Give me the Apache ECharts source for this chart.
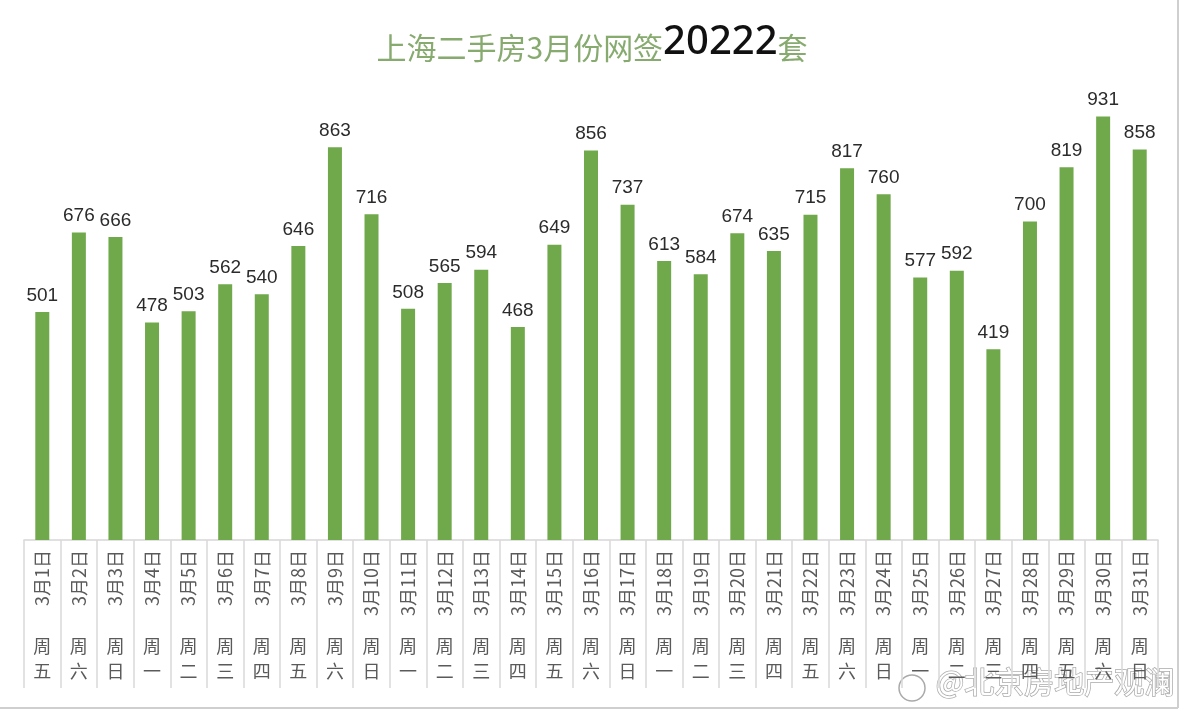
<!DOCTYPE html>
<html><head><meta charset="utf-8">
<script src="https://cdn.jsdelivr.net/npm/echarts@6/dist/echarts.min.js"></script>
<style>html,body{margin:0;padding:0;background:#fff}#c{width:1184px;height:713px}</style>
</head><body><div id="c"></div>
<script>
const dates = ['3月1日','3月2日','3月3日','3月4日','3月5日','3月6日','3月7日','3月8日','3月9日','3月10日','3月11日','3月12日','3月13日','3月14日','3月15日','3月16日','3月17日','3月18日','3月19日','3月20日','3月21日','3月22日','3月23日','3月24日','3月25日','3月26日','3月27日','3月28日','3月29日','3月30日','3月31日'];
const weekdays = ['五','六','日','一','二','三','四','五','六','日','一','二','三','四','五','六','日','一','二','三','四','五','六','日','一','二','三','四','五','六','日'];
const sales = [501,676,666,478,503,562,540,646,863,716,508,565,594,468,649,856,737,613,584,674,635,715,817,760,577,592,419,700,819,931,858];

const chart = echarts.init(document.getElementById('c'));
chart.setOption({
  backgroundColor: '#fff',
  animation: false,
  title: {
    left: 'center', top: 18,
    text: '{a|上海二手房3月份网签}{b|20222}{a|套}',
    textStyle: {
      fontWeight: 'normal',
      rich: {
        a: { fontSize: 30, color: '#87aa6f', fontFamily: 'Noto Sans CJK SC', fontWeight: 'normal', verticalAlign: 'bottom' },
        b: { fontSize: 40, color: '#111', fontFamily: 'Noto Sans', fontWeight: 500, verticalAlign: 'bottom' }
      }
    }
  },
  grid: { left: 24, right: 26, top: 85, bottom: 173 },
  xAxis: [{
    type: 'category', data: dates, position: 'bottom',
    axisLine: { lineStyle: { color: '#d6d6d6', width: 1.5 } },
    axisTick: { show: true, length: 148, lineStyle: { color: '#d9d9d9', width: 1.5 } },
    axisLabel: { rotate: 90, margin: 10, fontSize: 18, color: '#5a5a5a', fontFamily: 'Noto Sans CJK SC', interval: 0 }
  }, {
    type: 'category', data: weekdays, position: 'bottom',
    axisLine: { show: false }, axisTick: { show: false },
    axisLabel: { margin: 94, fontSize: 18, lineHeight: 25, color: '#5a5a5a', fontFamily: 'Noto Sans CJK SC', interval: 0,
      formatter: v => '周\n' + v }
  }],
  yAxis: { type: 'value', min: 0, max: 1000, show: false, splitLine: { show: false } },
  series: [{
    type: 'bar', data: sales, xAxisIndex: 0, barWidth: 14,
    itemStyle: { color: '#70a94b' },
    label: { show: true, position: 'top', distance: 7, fontSize: 19, color: '#2b2b2b', fontFamily: 'Liberation Sans' }
  }],
  graphic: [
    { type: 'line', shape: { x1: 0, y1: 708, x2: 1178, y2: 708 }, style: { stroke: '#cfcfcf', lineWidth: 2 } },
    { type: 'line', shape: { x1: 1178, y1: 0, x2: 1178, y2: 708 }, style: { stroke: '#cfcfcf', lineWidth: 2 } },
    { type: 'text', left: 935, top: 666, style: { text: '@北京房地产观澜', fontSize: 30, fill: '#fff', stroke: '#aaa', lineWidth: 1.5, fontFamily: 'Noto Sans CJK SC' } },
    { type: 'circle', shape: { cx: 912, cy: 688, r: 13 }, style: { fill: '#fff', stroke: '#aaa', lineWidth: 1.5 } }
  ]
});
</script></body></html>
